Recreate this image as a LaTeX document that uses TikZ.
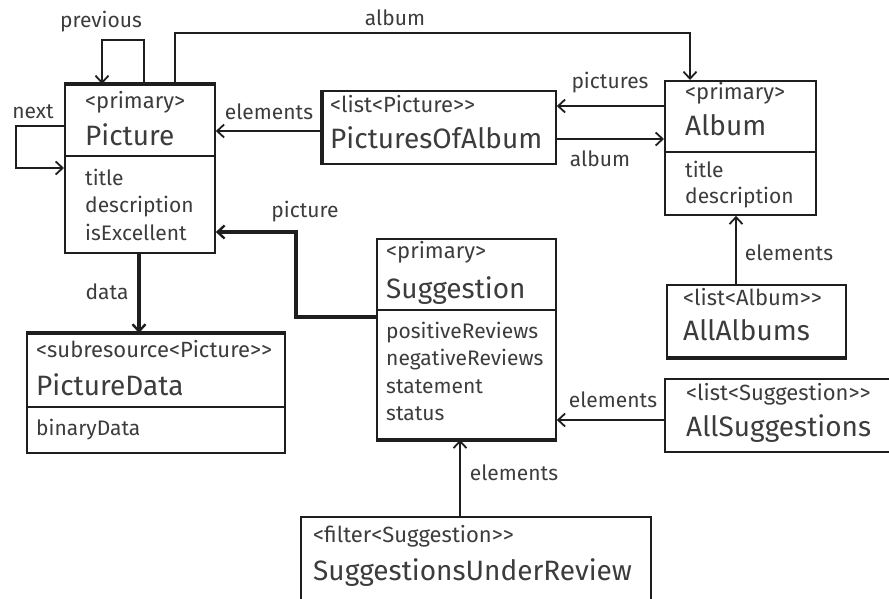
\documentclass[tikz,border=0pt]{standalone}
\usepackage{fontspec}
\setmainfont{Fira Sans}[Ligatures=TeXOff]
\usetikzlibrary{arrows.meta}
\definecolor{ink}{HTML}{1E1E1E}
\definecolor{txt}{HTML}{3C3C3C}
\tikzset{
  x=1pt, y=-1pt,
  box/.style={draw=ink, line width=1.8pt, inner sep=0pt, anchor=north west},
  heavy/.style={draw=ink, line width=3.6pt},
  rule/.style={draw=ink, line width=1.8pt},
  stereo/.style={anchor=base west, inner sep=0pt, text=txt, font=\fontsize{22}{22}\selectfont},
  title/.style={anchor=base west, inner sep=0pt, text=txt, font=\fontsize{28}{28}\selectfont},
  attr/.style={anchor=base west, inner sep=0pt, text=txt, font=\fontsize{21}{21}\selectfont},
  lbl/.style={inner sep=0pt, text=txt, font=\fontsize{21}{21}\selectfont},
  conn/.style={draw=ink, line width=1.8pt, -{Straight Barb[length=7pt,width=13pt,line width=1.8pt]}},
  thickconn/.style={draw=ink, line width=3.4pt, -{Straight Barb[length=7pt,width=13pt,line width=2.4pt]}},
}
\begin{document}
\begin{tikzpicture}
\useasboundingbox (0,0) rectangle (889,598);

% ---------- boxes ----------
\node[box, minimum width=150pt, minimum height=168pt] (pic) at (64,84) {};
\node[box, minimum width=233pt, minimum height=73pt] (poa) at (322,90) {};
\node[box, minimum width=151pt, minimum height=134pt] (alb) at (664,80) {};
\node[box, minimum width=179pt, minimum height=72pt] (alls) at (666,284) {};
\node[box, minimum width=226pt, minimum height=73pt] (allsug) at (664,378) {};
\node[box, minimum width=179pt, minimum height=200pt] (sug) at (376,238) {};
\node[box, minimum width=350pt, minimum height=100pt] (sur) at (300,516) {};
\node[box, minimum width=258pt, minimum height=119pt] (pd) at (26,333) {};

% heavier sides
\draw[heavy] (pic.north west) -- (pic.north east);
\draw[heavy] (poa.north west) -- (poa.south west);
\draw[heavy] (alls.south west) -- (alls.south east);
\draw[heavy] (sug.south west) -- (sug.south east);
\draw[heavy] (pd.north west) -- (pd.north east);

% compartment rules
\draw[rule] (pic.west |- 0,156) -- (pic.east |- 0,156);
\draw[rule] (alb.west |- 0,152) -- (alb.east |- 0,152);
\draw[rule] (sug.west |- 0,310) -- (sug.east |- 0,310);
\draw[rule] (pd.west |- 0,407) -- (pd.east |- 0,407);

% ---------- texts ----------
\node[stereo] (picS) at (85,108) {<primary>};
\node[title]  (picT) at (85,145) {Picture};
\node[attr]   (picA1) at (85,185) {title};
\node[attr]   (picA2) at (85,212) {description};
\node[attr]   (picA3) at (85,240) {isExcellent};

\node[stereo] (poaS) at (330,112) {<list<Picture>>};
\node[title]  (poaT) at (330,148) {PicturesOfAlbum};

\node[stereo] (albS) at (685,99) {<primary>};
\node[title]  (albT) at (685,135) {Album};
\node[attr]   (albA1) at (685,177) {title};
\node[attr]   (albA2) at (685,203) {description};

\node[stereo] (allsS) at (683,305) {<list<Album>>};
\node[title]  (allsT) at (683,340) {AllAlbums};

\node[stereo] (allsugS) at (686,400) {<list<Suggestion>>};
\node[title]  (allsugT) at (686,436) {AllSuggestions};

\node[stereo] (sugS) at (386,258) {<primary>};
\node[title]  (sugT) at (386,298) {Suggestion};
\node[attr]   (sugA1) at (386,338) {positiveReviews};
\node[attr]   (sugA2) at (386,365) {negativeReviews};
\node[attr]   (sugA3) at (386,393) {statement};
\node[attr]   (sugA4) at (386,420) {status};

\node[stereo] (pdS) at (36,357) {<subresource<Picture>>};
\node[title]  (pdT) at (36,395) {PictureData};
\node[attr]   (pdA1) at (36,435) {binaryData};

\node[stereo] (surS) at (313,542) {<filter<Suggestion>>};
\node[title]  (surT) at (313,580) {SuggestionsUnderReview};

% ---------- connectors ----------
% previous (self loop on top)
\draw[conn] (pic.north -| 144,0) -- (144,40) -- (102,40) -- (pic.north -| 102,0);
% next (self loop on left)
\draw[conn] (pic.west |- 0,126) -- (16,126) -- (16,168) -- (pic.west |- 0,168);
% album (Picture -> Album)
\draw[conn, line width=2.2pt] (pic.north -| 175,0) -- (175,33) -- (690,33) -- (alb.north -| 690,0);
% elements (PicturesOfAlbum -> Picture)
\draw[conn] (poa.west |- 0,131) -- (pic.east |- 0,131);
% pictures (Album -> PicturesOfAlbum)
\draw[conn] (alb.west |- 0,106) -- (poa.east |- 0,106);
% album (PicturesOfAlbum -> Album)
\draw[conn] (poa.east |- 0,139) -- (alb.west |- 0,139);
% picture (Suggestion -> Picture)
\draw[thickconn] (sug.west |- 0,317) -- (296,317) -- (296,232) -- (pic.east |- 0,232);
% data (Picture -> PictureData)
\draw[thickconn] (pic.south -| 139,0) -- (pd.north -| 139,0);
% elements (AllAlbums -> Album)
\draw[conn] (alls.north -| 736,0) -- (alb.south -| 736,0);
% elements (AllSuggestions -> Suggestion)
\draw[conn] (allsug.west |- 0,420) -- (sug.east |- 0,420);
% elements (SuggestionsUnderReview -> Suggestion)
\draw[conn] (sur.north -| 460,0) -- (sug.south -| 460,0);

% ---------- connector labels ----------
\node[lbl] (lprev) at (101,22) {previous};
\node[lbl] (lnext) at (33,112) {next};
\node[lbl] (lalb1) at (395,18) {album};
\node[lbl] (lel1) at (269,112) {elements};
\node[lbl] (lpics) at (610,83) {pictures};
\node[lbl] (lalb2) at (600,159) {album};
\node[lbl] (lpic) at (305,212) {picture};
\node[lbl] (ldata) at (107,292) {data};
\node[lbl] (lel2) at (789,253) {elements};
\node[lbl] (lel3) at (613,400) {elements};
\node[lbl] (lel4) at (514,473) {elements};
\end{tikzpicture}
\end{document}
